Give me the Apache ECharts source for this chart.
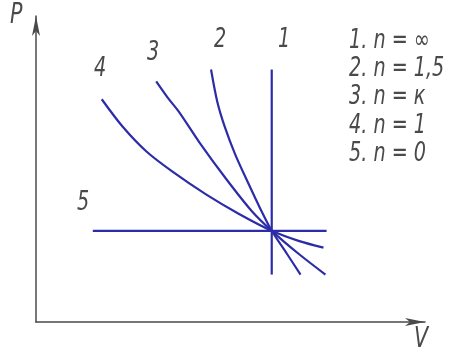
<!DOCTYPE html>
<html>
<head>
<meta charset="utf-8">
<script src="https://cdn.jsdelivr.net/npm/echarts@6/dist/echarts.min.js"></script>
<style>html,body{margin:0;padding:0;background:#fff}#c{width:453px;height:356px}</style>
</head>
<body>
<div id="c"></div>
<script>
// Process curves on a P–V diagram (arbitrary units 0..100)
const curveNames = ['1', '2', '3', '4', '5'];
const legendLines = ['1. n = ∞', '2. n = 1,5', '3. n = к', '4. n = 1', '5. n = 0'];
// n = ∞ (isochore)
const line1 = [[60.6, 82.5], [60.6, 15.5]];
// n = 1.5
const line2 = [[45.0, 82.5], [46.6, 72.0], [48.6, 63.5], [51.2, 54.8], [54.7, 45.0], [57.6, 37.2], [60.6, 29.8], [64.5, 22.3], [68.0, 15.5]];
// n = k (adiabat)
const line3 = [[30.9, 78.6], [33.8, 73.4], [36.8, 68.6], [41.9, 58.9], [48.8, 46.9], [55.5, 36.2], [60.6, 29.8], [67.5, 22.3], [74.4, 15.5]];
// n = 1 (isotherm)
const line4 = [[16.9, 72.8], [22.3, 63.8], [28.4, 55.7], [35.0, 49.2], [43.7, 41.7], [52.2, 35.3], [60.6, 29.8], [67.5, 26.5], [73.9, 24.3]];
// n = 0 (isobar)
const line5 = [[14.6, 29.8], [74.7, 29.8]];
const allLines = [line1, line2, line3, line4, line5];

const blue = '#2c2ca8';
const gray = '#4a4a4a';
const chart = echarts.init(document.getElementById('c'));
const txtFont = 'italic 26px "DejaVu Sans Condensed", "Liberation Sans", sans-serif';
const sx = 0.82;

const labelPos = [[278, 27], [214, 27], [147, 40], [94, 56], [77, 190]];

chart.setOption({
  animation: false,
  grid: { left: 36, right: 28, top: 16, bottom: 34 },
  xAxis: {
    type: 'value', min: 0, max: 100,
    axisLine: { show: true, lineStyle: { color: gray, width: 1.5 }, symbol: ['none', 'arrow'], symbolSize: [6, 20] },
    axisTick: { show: false }, axisLabel: { show: false }, splitLine: { show: false }
  },
  yAxis: {
    type: 'value', min: 0, max: 100,
    axisLine: { show: true, lineStyle: { color: gray, width: 1.5 }, symbol: ['none', 'arrow'], symbolSize: [6, 20] },
    axisTick: { show: false }, axisLabel: { show: false }, splitLine: { show: false }
  },
  series: allLines.map((d, i) => ({
    type: 'line', name: curveNames[i], data: d, smooth: (i >= 1 && i <= 3) ? 0.3 : false,
    showSymbol: false, lineStyle: { color: blue, width: 2.2 }
  })),
  graphic: [
    { type: 'text', left: 10, top: 2, scaleX: sx, style: { text: 'P', font: 'italic 28px "DejaVu Sans Condensed", sans-serif', fill: gray } },
    { type: 'text', left: 414, top: 326, scaleX: sx, style: { text: 'V', font: 'italic 28px "DejaVu Sans Condensed", sans-serif', fill: gray } }
  ].concat(curveNames.map((t, i) => ({
    type: 'text', left: labelPos[i][0], top: labelPos[i][1], scaleX: sx, style: { text: t, font: txtFont, fill: gray }
  }))).concat(legendLines.map((t, i) => ({
    type: 'text', left: 349, top: 28 + i * 28.3, scaleX: sx, style: { text: t, font: txtFont, fill: gray }
  })))
});
</script>
</body>
</html>
